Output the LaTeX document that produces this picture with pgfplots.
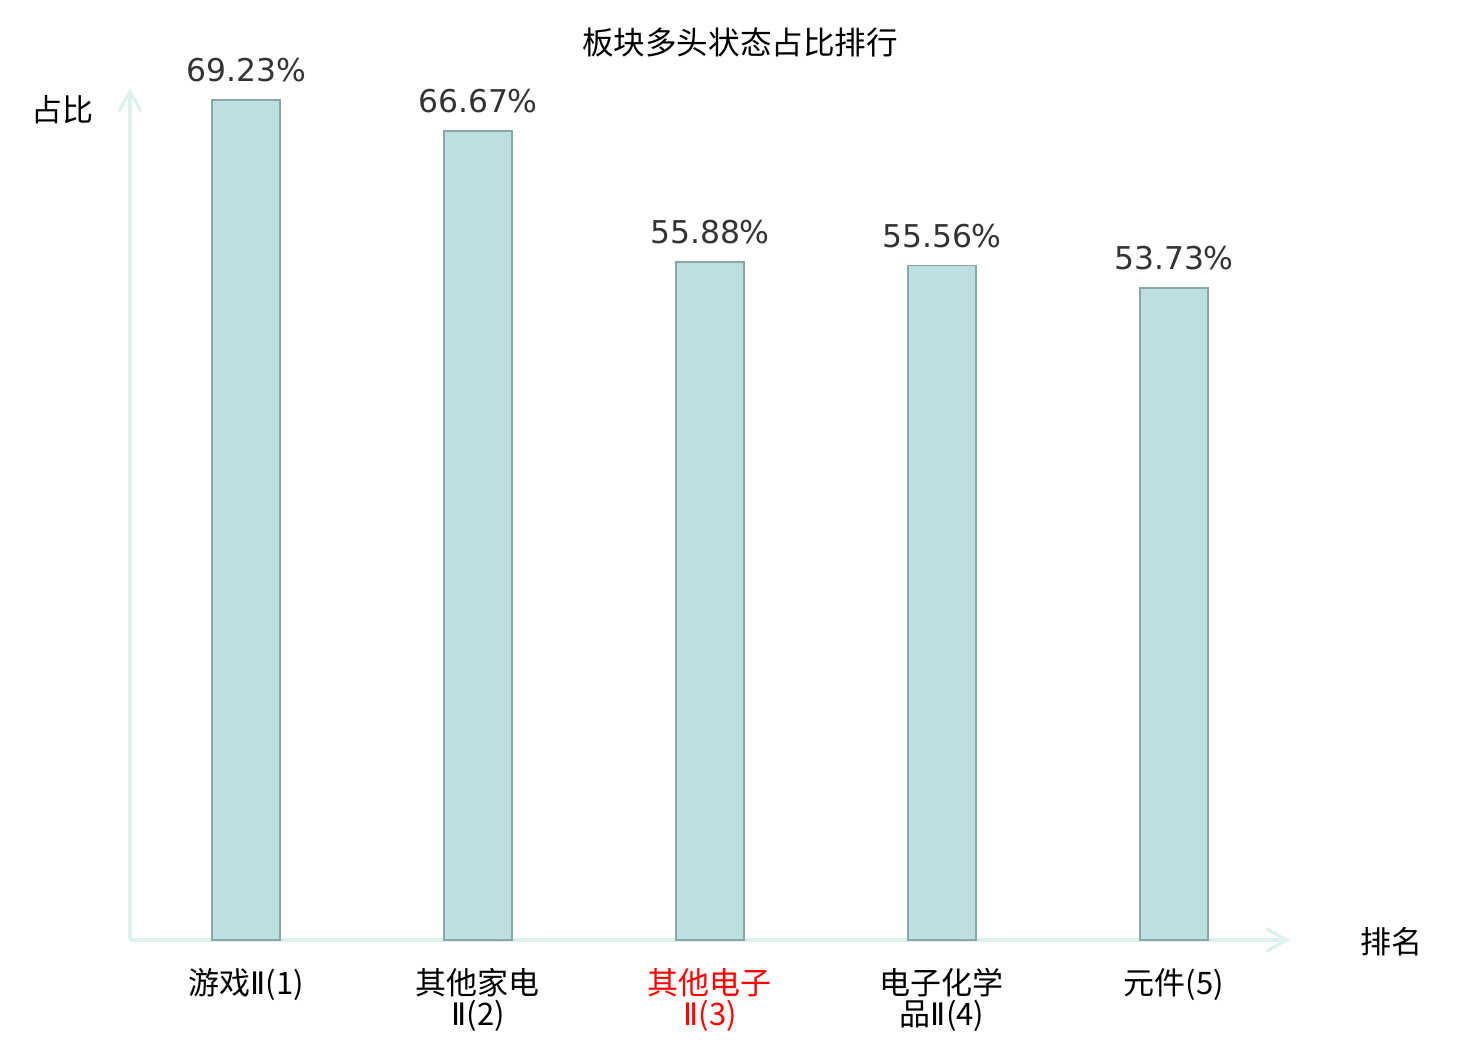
\documentclass[border=0pt]{standalone}
\usepackage{pgfplots}
\pgfplotsset{compat=1.18}
\usetikzlibrary{arrows.meta}
\usepackage{fontspec}
\setmainfont{DejaVu Sans}
\newfontfamily\cjk{Noto Sans CJK SC}
\newfontfamily\dv{DejaVu Sans}
\newcommand{\RII}{{\dv Ⅱ}}
\definecolor{barfill}{HTML}{BCE0E2}
\definecolor{baredge}{HTML}{8CA6A8}
\definecolor{axisc}{HTML}{DDF1EF}
\definecolor{valc}{HTML}{333333}
\begin{document}
\begin{tikzpicture}
\useasboundingbox (0pt,0pt) rectangle (740pt,-520pt);
\begin{axis}[
  at={(65pt,-470pt)}, anchor=south west,
  scale only axis, width=580pt, height=426pt,
  xmin=-0.5, xmax=4.5, ymin=0, ymax=70.2,
  axis x line=bottom, axis y line=left,
  axis line style={draw=axisc, line width=1.6pt, -{Straight Barb[length=10pt,width=11pt,line width=1.6pt]}},
  ytick=\empty,
  xtick={0,1,2,3,4},
  major tick length=0pt,
  xticklabels={{游戏\RII(1)},{其他家电\\\RII(2)},{\color{red}其他电子\\\color{red}\RII(3)},{电子化学\\品\RII(4)},{元件(5)}},
  xticklabel style={font=\cjk\fontsize{15.5}{15.5}\selectfont, align=center, anchor=north, inner sep=0pt, yshift=-14pt},
  ybar, bar width=34pt,
  point meta=explicit symbolic,
  nodes near coords,
  every node near coord/.append style={font=\fontsize{15.7}{18}\selectfont, text=valc, anchor=base, inner sep=0pt, yshift=9pt},
  clip=false,
]
\addplot[fill=barfill, draw=baredge, line width=0.75pt] coordinates {
  (0,69.23) [69.23\%]
  (1,66.67) [66.67\%]
  (2,55.88) [55.88\%]
  (3,55.56) [55.56\%]
  (4,53.73) [53.73\%]
};
\end{axis}
\node[font=\cjk\fontsize{15.8}{18}\selectfont] at (370pt,-21pt) {板块多头状态占比排行};
\node[font=\cjk\fontsize{15.5}{18}\selectfont] at (31.5pt,-55pt) {占比};
\node[font=\cjk\fontsize{15.5}{18}\selectfont] at (695.5pt,-471pt) {排名};
\end{tikzpicture}
\end{document}
